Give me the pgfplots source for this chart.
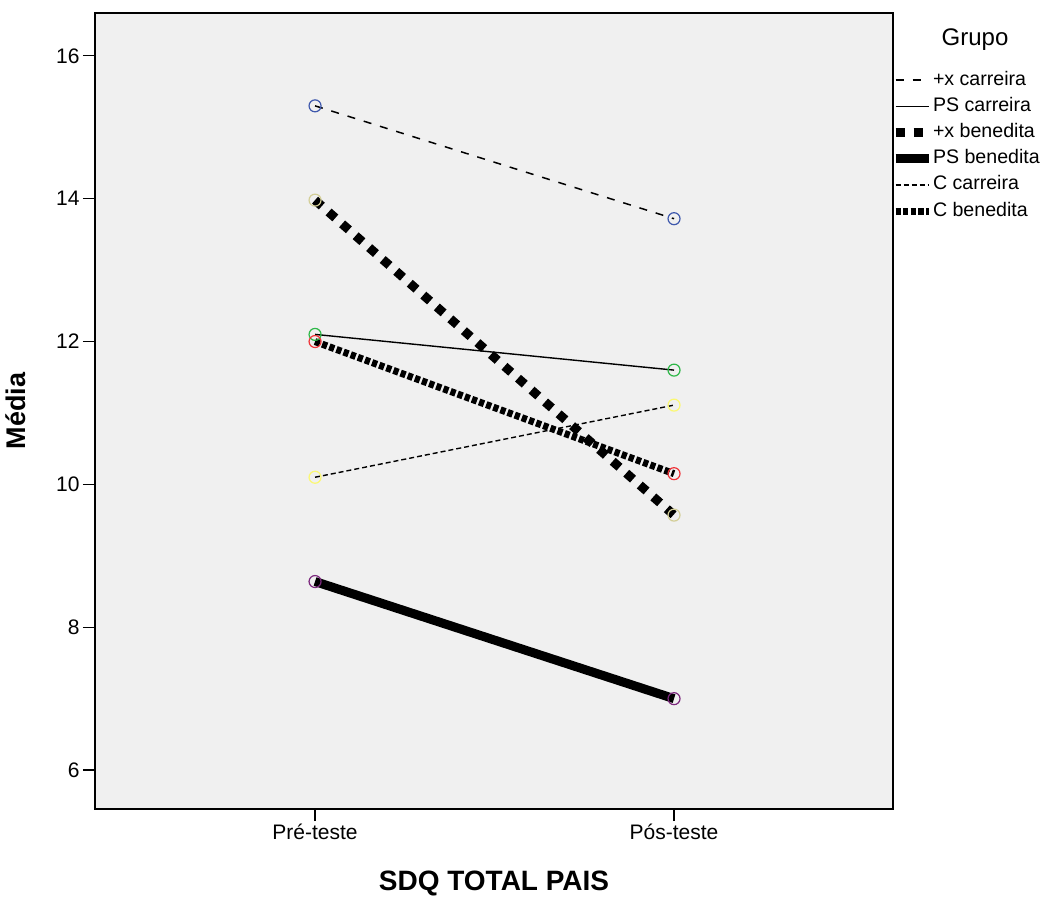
\documentclass[border=0pt]{standalone}
\usepackage{fontspec}
\setmainfont{Liberation Sans}
\usepackage{pgfplots}
\pgfplotsset{compat=1.18}
\definecolor{bgc}{HTML}{F0F0F0}
\definecolor{c1}{HTML}{3E58AC}
\definecolor{c2}{HTML}{2EB848}
\definecolor{c3}{HTML}{D3CE97}
\definecolor{c4}{HTML}{7C287D}
\definecolor{c5}{HTML}{FBF873}
\definecolor{c6}{HTML}{EF3338}
\begin{document}
\begin{tikzpicture}
\useasboundingbox (-47.5pt,-43.5pt) rectangle (479pt,404.5pt);
\begin{axis}[
  scale only axis, width=399pt, height=398pt,
  anchor=south west, at={(0,0)},
  xmin=-0.613, xmax=1.61, ymin=5.455, ymax=16.6,
  xtick={0,1}, xticklabels={Pré-teste,Pós-teste},
  ytick={6,8,10,12,14,16},
  tick pos=left, tick align=outside, major tick length=6pt,
  minor tick num=0,
  tick style={black, line width=0.6pt},
  axis line style={black, line width=0.6pt},
  axis background/.style={fill=bgc},
  /pgf/number format/assume math mode=true,
  ticklabel style={font=\fontsize{10.5}{12}\selectfont, inner sep=1.5pt},
  xlabel={SDQ TOTAL PAIS},
  ylabel={Média},
  xlabel style={font=\bfseries\fontsize{14}{16}\selectfont, at={([yshift=-40.5pt]axis description cs:0.5,0)}, anchor=base},
  ylabel style={font=\bfseries\fontsize{13.5}{16}\selectfont, at={([xshift=-34.5pt]axis description cs:0,0.5)}, anchor=base},
  legend style={at={([xshift=-3pt,yshift=1pt]axis description cs:1.005,0.9246)}, anchor=north west, draw=none, fill=none,
    inner sep=0pt, outer sep=0pt, row sep=4.1pt,
    font=\fontsize{9.8}{11}\selectfont,
    nodes={inner sep=0pt, text height=7pt, text depth=2pt},
    /tikz/every even column/.append style={column sep=3pt}},
  legend cell align=left,
  legend image code/.code={\draw[#1] (0pt,0pt) -- (16.5pt,0pt);},
]
\addplot[black, line width=0.75pt, dash pattern=on 4pt off 4.5pt,
  mark=o, mark size=3pt, mark options={solid, c1, line width=0.6pt}]
  coordinates {(0,15.30) (1,13.72)};
\addlegendentry{+x carreira}
\addplot[black, line width=0.7pt,
  mark=o, mark size=3pt, mark options={solid, c2, line width=0.6pt}]
  coordinates {(0,12.10) (1,11.60)};
\addlegendentry{PS carreira}
\addplot[black, line width=4.5pt, dash pattern=on 4.5pt off 4.5pt,
  mark=o, mark size=3pt, mark options={solid, c3, line width=0.6pt}]
  coordinates {(0,13.98) (1,9.57)};
\addlegendentry{+x benedita}
\addplot[black, line width=4.5pt,
  mark=o, mark size=3pt, mark options={solid, c4, line width=0.6pt}]
  coordinates {(0,8.64) (1,7.00)};
\addlegendentry{PS benedita}
\addplot[black, line width=0.7pt, dash pattern=on 2.5pt off 1.5pt,
  mark=o, mark size=3pt, mark options={solid, c5, line width=0.6pt}]
  coordinates {(0,10.10) (1,11.11)};
\addlegendentry{C carreira}
\addplot[black, line width=3.5pt, dash pattern=on 2.6pt off 1.2pt,
  mark=o, mark size=3pt, mark options={solid, c6, line width=0.6pt}]
  coordinates {(0,12.00) (1,10.15)};
\addlegendentry{C benedita}
\end{axis}
\node[font=\fontsize{12}{14}\selectfont, anchor=center] at ([xshift=41pt,yshift=-13.5pt]current axis.north east) {Grupo};
\end{tikzpicture}
\end{document}
